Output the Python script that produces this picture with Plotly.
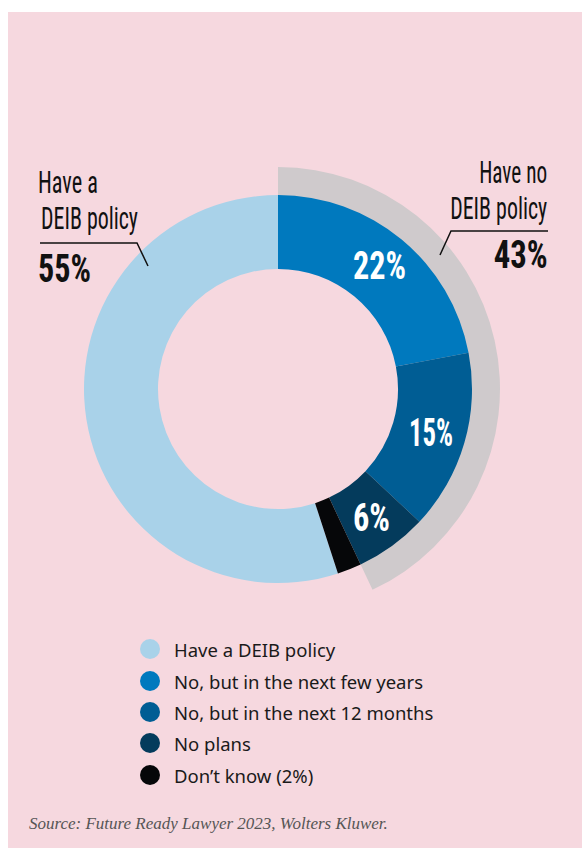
import math
import plotly.graph_objects as go

# ---------------- data ----------------
categories = ["Have a DEIB policy", "No, but in the next few years",
              "No, but in the next 12 months", "No plans", "Don’t know (2%)"]
values = [55, 22, 15, 6, 2]
slice_labels = ["", "22%", "15%", "6%", ""]
colors = ["#a9d2e9", "#0079be", "#005d94", "#043b5c", "#060709"]
have_title = ["Have a", "DEIB policy"]
have_value = "55%"
no_title = ["Have no", "DEIB policy"]
no_value = "43%"
no_policy_total = sum(values[1:4])          # 43
source = "Source: Future Ready Lawyer 2023, Wolters Kluwer."

W, H = 582, 848
PINK = "#f6d8df"
GRAY = "#cfcacc"
COND = "Roboto Condensed, Liberation Sans Narrow, DejaVu Sans Condensed, sans-serif"

# printed widths of the condensed display type
fit_width = {"Have a": 60, "DEIB policy": 97, "55%": 53, "Have no": 68, "43%": 54,
             "22%": 53, "15%": 44, "6%": 37}

cx, cy, R, R_in, R_gray = 278, 389, 194, 120, 222


def dom_x(r):
    return [(cx - r) / W, (cx + r) / W]


def dom_y(r):
    return [(H - cy - r) / H, (H - cy + r) / H]


total = sum(values)
start = (total - values[0]) / total * 360
fig = go.Figure()

# gray outer arc marking "no policy" share
fig.add_trace(go.Pie(
    values=[no_policy_total, total - no_policy_total],
    labels=["no", "rest"],
    sort=False, direction="clockwise", rotation=0,
    hole=0.6, textinfo="none", hoverinfo="skip", showlegend=False,
    marker=dict(colors=[GRAY, "rgba(0,0,0,0)"], line=dict(width=0)),
    domain=dict(x=dom_x(R_gray), y=dom_y(R_gray)),
))

# main donut
fig.add_trace(go.Pie(
    values=values, labels=categories,
    sort=False, direction="clockwise", rotation=start,
    hole=R_in / R, textinfo="none",
    showlegend=False,
    marker=dict(colors=colors, line=dict(width=0)),
    domain=dict(x=dom_x(R), y=dom_y(R)),
))

# legend markers on pixel-space overlay axis
leg_y = [649, 681, 712, 743, 775]
fig.add_trace(go.Scatter(
    x=[150] * len(categories), y=leg_y, mode="markers",
    marker=dict(size=20, color=colors, line=dict(width=0)),
    hoverinfo="skip", showlegend=False,
))

annotations = []
for lab, yy in zip(categories, leg_y):
    annotations.append(dict(x=172, y=yy, xref="x", yref="y", text=lab, showarrow=False,
                            xanchor="left", yanchor="middle",
                            font=dict(family="Noto Sans, Open Sans, sans-serif", size=18.5,
                                      color="#1a1a1a")))

fitted = []
# slice value labels at mid-angle of each slice
cum = 0.0
r_lab = (R + R_in) / 2 + 2
for v, lab in zip(values, slice_labels):
    ang = math.radians(start + (cum + v / 2) / total * 360)
    cum += v
    if not lab:
        continue
    fitted.append(dict(x=cx + r_lab * math.sin(ang), y=cy - r_lab * math.cos(ang), text=lab,
                       xanchor="center", align="center", width=fit_width[lab] + 4,
                       font=dict(family=COND, size=38, color="white", weight="bold")))

title_font = dict(family=COND, size=31, color="#111")
num_font = dict(family=COND, size=38, color="#111", weight="bold")
fitted += [
    # left callout (left aligned)
    dict(x=36, y=182, text=have_title[0], font=title_font, xanchor="left", align="left"),
    dict(x=39, y=218, text=have_title[1], font=title_font, xanchor="left", align="left"),
    dict(x=36, y=269, text=have_value, font=num_font, xanchor="left", align="left"),
    # right callout (right aligned)
    dict(x=549, y=172, text=no_title[0], font=title_font, xanchor="right", align="right"),
    dict(x=549, y=208, text=no_title[1], font=title_font, xanchor="right", align="right"),
    dict(x=550, y=255, text=no_value, font=num_font, xanchor="right", align="right"),
]
for a in fitted:
    a.update(xref="x", yref="y", showarrow=False, yanchor="middle")
annotations += fitted

# source
annotations.append(dict(x=27, y=823, xref="x", yref="y", text=source, showarrow=False,
                        xanchor="left", yanchor="middle",
                        font=dict(family="Liberation Serif, DejaVu Serif, serif", size=17,
                                  color="#555", style="italic")))

shapes = [
    dict(type="rect", xref="x", yref="y", x0=8, y0=12, x1=W, y1=H,
         fillcolor=PINK, line=dict(width=0), layer="below"),
    dict(type="path", xref="x", yref="y", path="M 40 243 L 137 243 L 148 266",
         line=dict(color="#111", width=1.5)),
    dict(type="path", xref="x", yref="y", path="M 548 231 L 451 231 L 440 255",
         line=dict(color="#111", width=1.5)),
]

fig.update_layout(
    width=W, height=H, margin=dict(l=0, r=0, t=0, b=0),
    paper_bgcolor="white", plot_bgcolor="rgba(0,0,0,0)",
    xaxis=dict(range=[0, W], visible=False, fixedrange=True, domain=[0, 1]),
    yaxis=dict(range=[H, 0], visible=False, fixedrange=True, domain=[0, 1]),
    annotations=annotations, shapes=shapes, showlegend=False,
)

# condensed display type: fit the headline texts to their printed widths
post = """
var gd = document.getElementById('{plot_id}');
var target = %s;
gd.querySelectorAll('text').forEach(function(t) {
  var s = t.textContent;
  if (Object.prototype.hasOwnProperty.call(target, s)) {
    t.setAttribute('textLength', target[s]);
    t.setAttribute('lengthAdjust', 'spacingAndGlyphs');
  }
});
""" % str(fit_width).replace("'", '"')

fig.write_html("out.html", post_script=post)
